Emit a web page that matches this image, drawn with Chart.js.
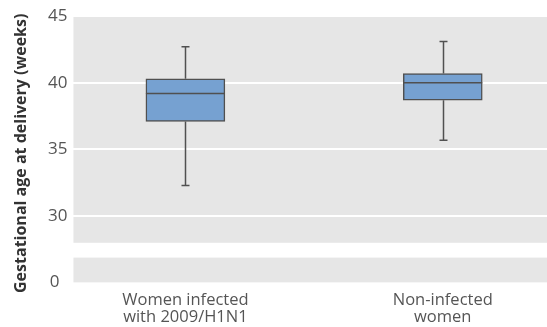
<!DOCTYPE html>
<html>
<head>
<meta charset="utf-8">
<script src="https://cdn.jsdelivr.net/npm/chart.js@4/dist/chart.umd.min.js"></script>
<style>
  body { margin: 0; background: #fff; }
</style>
</head>
<body>
<canvas id="boxplot" width="547" height="327"></canvas>
<script>
const boxCanvas = document.getElementById("boxplot");
const boxCtx    = boxCanvas.getContext('2d');

const panelGrey = "#e6e6e6";
const boxBlue   = "#76a1d1";
const lineGrey  = "#505050";
const textGrey  = "#555555";

// groups and their place on the x axis
const groupLabels = [["Women infected", "with 2009/H1N1"], ["Non-infected", "women"]];
const groupPos    = [1, 2];

// gestational age at delivery (weeks)
const whiskerLow  = [32.3, 35.7];
const quartile1   = [37.1, 38.7];
const medians     = [39.2, 40.0];
const quartile3   = [40.3, 40.7];
const whiskerHigh = [42.7, 43.1];

const upperTicks = [30, 35, 40, 45];
const lowerTicks = [0];

const yTitle = "Gestational age at delivery (weeks)";

// grey panels behind the two halves of the broken axis
const panelPlugin = {
  id: 'panels',
  beforeDraw(chart) {
    const { ctx, chartArea, scales } = chart;
    ctx.save();
    ctx.fillStyle = panelGrey;
    for (const id of ['y', 'y0']) {
      const s = scales[id];
      ctx.fillRect(chartArea.left, s.top, chartArea.right - chartArea.left, s.bottom - s.top);
    }
    ctx.restore();
  },
  afterDraw(chart) {
    const { ctx, chartArea } = chart;
    ctx.save();
    ctx.translate(21, (chartArea.top + chartArea.bottom) / 2 + 4);
    ctx.rotate(-Math.PI / 2);
    ctx.font = "bold 16px 'Open Sans'";
    ctx.fillStyle = "#333";
    ctx.textAlign = "center";
    ctx.textBaseline = "middle";
    ctx.fillText(yTitle, 0, 0);
    ctx.restore();
  }
};

// whiskers, caps and median lines
const whiskerPlugin = {
  id: 'whiskers',
  afterDatasetsDraw(chart) {
    const { ctx, scales } = chart;
    const y = scales.y;
    const meta = chart.getDatasetMeta(0);
    ctx.save();
    ctx.strokeStyle = lineGrey;
    ctx.lineWidth = 1.5;
    meta.data.forEach((bar, i) => {
      const x = Math.round(bar.x) + 0.5;
      const half = bar.width / 2;
      const lo = y.getPixelForValue(whiskerLow[i]);
      const hi = y.getPixelForValue(whiskerHigh[i]);
      const b = y.getPixelForValue(quartile1[i]);
      const t = y.getPixelForValue(quartile3[i]);
      const m = y.getPixelForValue(medians[i]);
      ctx.beginPath();
      ctx.moveTo(x, hi); ctx.lineTo(x, t);
      ctx.moveTo(x, b);  ctx.lineTo(x, lo);
      ctx.moveTo(x - 4, hi); ctx.lineTo(x + 4, hi);
      ctx.moveTo(x - 4, lo); ctx.lineTo(x + 4, lo);
      ctx.moveTo(bar.x - half, m); ctx.lineTo(bar.x + half, m);
      ctx.stroke();
    });
    ctx.restore();
  }
};

const boxData = {
  datasets: [{
    data: groupPos.map((x, i) => ({ x: x, y: [quartile1[i], quartile3[i]] })),
    backgroundColor: boxBlue,
    borderColor: lineGrey,
    borderWidth: 1.5,
    borderSkipped: false,
    barThickness: 79,
    yAxisID: 'y'
  }]
};

const hiddenAxis = {
  ticks: { display: false },
  grid: { display: false },
  border: { display: false }
};

const boxConfig = {
  type: 'bar',
  data: boxData,
  plugins: [panelPlugin, whiskerPlugin],
  options: {
    responsive: false,
    animation: false,
    layout: { padding: { left: 42, top: 0 } },
    plugins: {
      legend: { display: false },
      tooltip: { enabled: false }
    },
    scales: {
      x: {
        type: 'linear',
        offset: false,
        min: 0.565,
        max: 2.405,
        afterBuildTicks: axis => { axis.ticks = groupPos.map(v => ({ value: v })); },
        ticks: {
          callback: (v) => groupLabels[groupPos.indexOf(v)],
          color: textGrey,
          font: { family: 'Open Sans', size: 16.5, lineHeight: 1.05 },
          padding: 1,
          maxRotation: 0
        },
        grid: { display: false, offset: false },
        border: { display: false }
      },
      y: {
        position: 'left',
        stack: 'gestation',
        stackWeight: 229,
        weight: 3,
        min: 28,
        max: 45,
        afterBuildTicks: axis => { axis.ticks = upperTicks.map(v => ({ value: v })); },
        ticks: {
          color: textGrey,
          font: { family: 'Open Sans', size: 17 },
          padding: 6
        },
        grid: { color: '#fff', lineWidth: 2, drawTicks: false },
        border: { display: false }
      },
      gap: Object.assign({
        position: 'left',
        stack: 'gestation',
        stackWeight: 15,
        weight: 2
      }, hiddenAxis),
      y0: {
        position: 'left',
        stack: 'gestation',
        stackWeight: 25,
        weight: 1,
        min: 0,
        max: 2,
        afterBuildTicks: axis => { axis.ticks = lowerTicks.map(v => ({ value: v })); },
        ticks: {
          color: textGrey,
          font: { family: 'Open Sans', size: 17 },
          padding: 6
        },
        grid: { display: false },
        border: { display: false }
      }
    }
  }
};

const boxChart = new Chart(boxCtx, boxConfig);
</script>
</body>
</html>
